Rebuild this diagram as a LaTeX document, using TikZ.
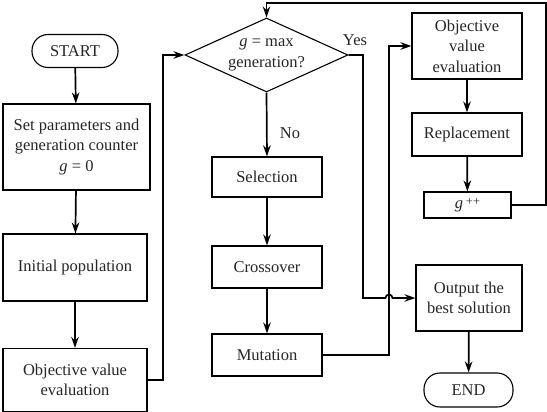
\documentclass[tikz,border=0pt]{standalone}
\usepackage{fontspec}
\setmainfont{Liberation Serif}
\usetikzlibrary{shapes.geometric,arrows.meta}
\begin{document}
\begin{tikzpicture}[x=1pt,y=-1pt,
 txt/.style={font=\fontsize{16.5}{20.5}\selectfont,align=center,text=black!85},
 box/.style={txt,draw,line width=1.1pt,inner sep=1pt},
 term/.style={box,rounded corners=16pt},
 arr/.style={line width=1.7pt,-{Stealth[length=11pt,width=7.5pt]}},
 ln/.style={line width=1.7pt}]
\useasboundingbox (0,0) rectangle (547,412);
% left column
\node[term, minimum width=86pt, minimum height=33pt] (start) at (75,51) {START};
\node[box, minimum width=147pt, minimum height=86pt] (set) at (76.5,147) {Set parameters and\\generation counter\\\textit{g} = 0};
\node[box, minimum width=144pt, minimum height=67pt] (init) at (75,267.5) {Initial population};
\node[box, minimum width=144pt, minimum height=63pt] (obj1) at (75,380) {Objective value\\evaluation};
% middle column
\node[draw, diamond, line width=1.1pt, minimum width=163pt, minimum height=74pt, inner sep=0pt] (dec) at (266.5,55) {};
\node[txt] (dectext) at (dec.center) {\textit{g} = max\\generation?};
\node[box, minimum width=110pt, minimum height=40pt] (sel) at (267,177) {Selection};
\node[box, minimum width=110pt, minimum height=42pt] (cross) at (267,267) {Crossover};
\node[box, minimum width=110pt, minimum height=42pt] (mut) at (267,355) {Mutation};
\node[txt] (no) at (290,133) {No};
\node[txt] (yes) at (355,40) {Yes};
% right column
\node[box, minimum width=110pt, minimum height=66pt] (obj2) at (467,46) {Objective\\value\\evaluation};
\node[box, minimum width=110pt, minimum height=43pt] (rep) at (467,134.5) {Replacement};
\node[box, minimum width=87pt, minimum height=26pt, inner sep=0pt] (gpp) at (467.5,205) {\textit{g}\,\raisebox{0.4ex}{\fontsize{12.5}{13}\selectfont ++}};
\node[box, minimum width=106pt, minimum height=66pt] (out) at (469,298) {Output the\\best solution};
\node[term, minimum width=89pt, minimum height=34pt] (end) at (468.5,390) {END};
% helper coordinates
\coordinate (c1) at (163,0);
\coordinate (cy) at (363,0);
\coordinate (cm) at (389,0);
\coordinate (cr) at (546,0);
\coordinate (ct) at (0,3);
% connectors
\draw[arr] (start) -- (set);
\draw[arr] (set) -- (init);
\draw[arr] (init) -- (obj1);
\draw[arr] (obj1.east) -- (obj1.east -| c1) -- (dec.west -| c1) -- (dec.west);
\draw[arr] (dec.south) -- (sel.north);
\draw[arr] (sel) -- (cross);
\draw[arr] (cross) -- (mut);
\draw[arr] (mut.east) -- (mut.east -| cm) -- (obj2.west -| cm) -- (obj2.west);
\draw[arr] (dec.east) -- (dec.east -| cy) -- (out.west -| cy) -- ([xshift=-3.5pt]out.west -| cm) arc (180:360:3.5) -- (out.west);
\draw[arr] (obj2) -- (rep);
\draw[arr] (rep) -- (gpp);
\draw[arr] (gpp.east) -- (gpp.east -| cr) -- (ct -| cr) -- (ct -| dec.north) -- (dec.north);
\draw[arr] (out) -- (end);
\end{tikzpicture}
\end{document}
